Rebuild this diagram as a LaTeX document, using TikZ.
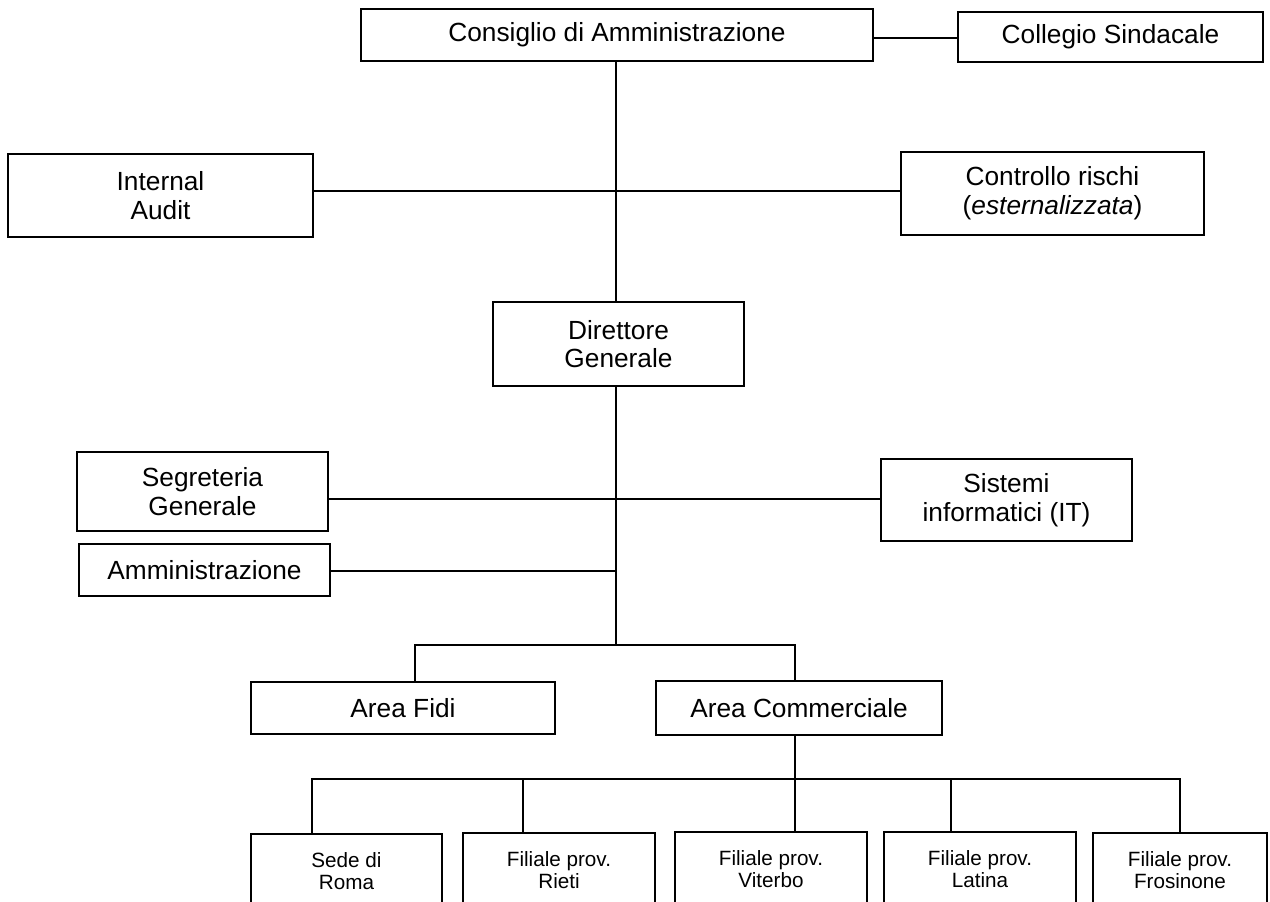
\documentclass[tikz,border=0pt]{standalone}
\usepackage{fontspec}
\setmainfont{Liberation Sans}
\begin{document}
\begin{tikzpicture}[x=0.75pt,y=-0.75pt,line width=1.4pt,
  box/.style={draw,inner sep=0pt,align=center,font=\fontsize{19.7}{21.5}\selectfont},
  sbox/.style={draw,inner sep=0pt,align=center,font=\fontsize{15.5}{16.5}\selectfont},
  sz/.style 2 args={minimum width=#1*0.75pt,minimum height=#2*0.75pt}]
\useasboundingbox (0,0) rectangle (1270,901);
\clip (0,0) rectangle (1270,901);
% nodes
\node[box,sz={512}{52}] (cda) at (617,35) {Consiglio di Amministrazione};
\node[box,sz={305}{50}] (cs) at (1110.5,37) {Collegio Sindacale};
\node[box,sz={305}{83}] (ia) at (160.5,195.5) {Internal\\Audit};
\node[box,sz={303}{83}] (cr) at (1052.5,193.5) {Controllo rischi\\(\textit{esternalizzata})};
\node[box,sz={251}{84}] (dg) at (618.5,344) {Direttore\\Generale};
\node[box,sz={251}{79}] (sg) at (202.5,491.5) {Segreteria\\Generale};
\node[box,sz={251}{82}] (si) at (1006.5,500) {Sistemi\\informatici (IT)};
\node[box,sz={251}{52}] (amm) at (204.5,570) {Amministrazione};
\node[box,sz={304}{52}] (af) at (403,708) {Area Fidi};
\node[box,sz={286}{54}] (ac) at (799,708) {Area Commerciale};
\node[sbox,sz={191}{74}] (sede) at (346.5,871) {Sede di\\Roma};
\node[sbox,sz={192}{74}] (rieti) at (559,870) {Filiale prov.\\Rieti};
\node[sbox,sz={192}{74}] (vit) at (771,869) {Filiale prov.\\Viterbo};
\node[sbox,sz={192}{74}] (lat) at (980,869) {Filiale prov.\\Latina};
\node[sbox,sz={174}{74}] (fro) at (1180,870) {Filiale prov.\\Frosinone};
% junction coordinates
\coordinate (jA) at (616,571);
\coordinate (jB) at (616,645);
\coordinate (jC) at (795,645);
\coordinate (jD) at (795,779);
% connectors
\draw (cda.east |- 0,38) -- (cs.west |- 0,38);
\draw (cda.south -| jA) -- (dg.north -| jA);
\draw (ia.east |- 0,191) -- (cr.west |- 0,191);
\draw (dg.south -| jA) -- (jB);
\draw (sg.east |- 0,499) -- (si.west |- 0,499);
\draw (amm.east |- jA) -- (jA);
\draw (af.north -| 415,0) |- (jC) -- (ac.north -| jC);
\draw (ac.south -| jD) -- (jD);
\draw (sede.north -| 312,0) |- (jD -| fro.north) -- (fro.north);
\draw (rieti.north -| 523,0) -- (jD -| 523,0);
\draw (vit.north -| jD) -- (jD);
\draw (lat.north -| 951,0) -- (jD -| 951,0);
\end{tikzpicture}
\end{document}
